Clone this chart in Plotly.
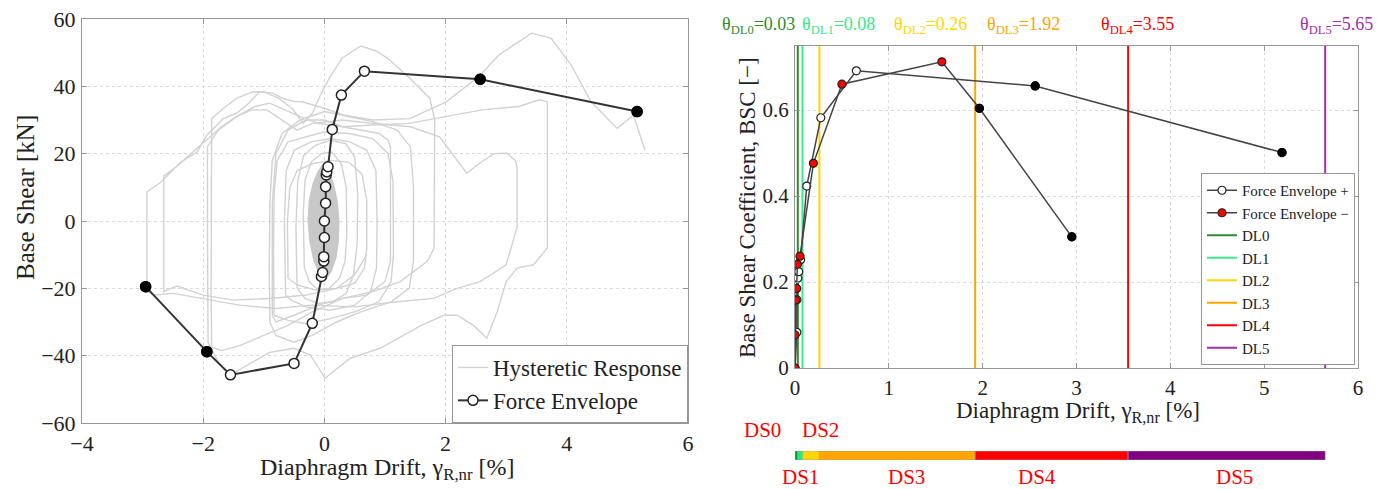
import plotly.graph_objects as go

W, H = 1383, 489

# ---------------- LEFT PANEL DATA ----------------
# Force envelope (drift %, base shear kN), ordered from negative end to positive end
env_drift = [-2.95, -1.94, -1.55, -0.50, -0.20, -0.05, -0.03, -0.01, -0.01, 0.00, 0.00,
             0.02, 0.02, 0.03, 0.04, 0.06, 0.13, 0.28, 0.66, 2.57, 5.16]
env_shear = [-19.5, -38.8, -45.7, -42.3, -30.4, -16.5, -15.3, -11.9, -10.6, -4.9, 0.0,
             5.3, 10.2, 13.7, 14.6, 16.1, 27.2, 37.4, 44.5, 42.1, 32.5]
env_post_peak = [0, 1, 19, 20]   # points plotted as filled black markers

# Hysteretic response: dense core region and individual loops (drift %, shear kN)
blob_x = [0.00, 0.08, 0.16, 0.22, 0.25, 0.24, 0.20, 0.12, 0.03, -0.08, -0.18, -0.25, -0.28, -0.26, -0.20, -0.12, -0.05, 0.00]
blob_y = [17, 15, 11, 6, 0, -6, -11, -15, -17.5, -16, -12, -6, 0, 6, 11, 14.5, 16.5, 17]

loop_s1_x = [-0.33, -0.35, -0.32, -0.22, -0.05, 0.12, 0.28, 0.36, 0.37, 0.34, 0.25, 0.08, -0.10, -0.25, -0.33]
loop_s1_y = [-14, 2, 12, 17.5, 20, 20.5, 17, 10, -4, -12, -17, -20, -20.5, -18, -14]

loop_s2_x = [-0.45, -0.47, -0.44, -0.34, -0.15, 0.10, 0.35, 0.50, 0.55, 0.54, 0.48, 0.36, 0.14, -0.10, -0.32, -0.45]
loop_s2_y = [-20, -2, 12, 19.5, 22.5, 24, 23, 19, 8, -7, -16, -21.5, -24, -24.5, -23, -20]

loop_m0_x = [-0.60, -0.61, -0.57, -0.45, -0.20, 0.10, 0.40, 0.62, 0.70, 0.70, 0.66, 0.50, 0.20, -0.15, -0.45, -0.60]
loop_m0_y = [-17, 0, 10, 15, 17, 18, 17.5, 14, 6, -8, -14, -18.5, -20, -20.5, -19, -17]

loop_m1_x = [-0.64, -0.66, -0.63, -0.50, -0.22, 0.10, 0.42, 0.70, 0.85, 0.87, 0.86, 0.76, 0.50, 0.10, -0.30, -0.55, -0.64]
loop_m1_y = [-22, 0, 15, 21, 23.5, 24.5, 23.5, 21, 15, 0, -14, -21, -25, -26.5, -25.5, -23.5, -22]

loop_m2_x = [-0.83, -0.84, -0.83, -0.78, -0.60, -0.30, 0.00, 0.40, 0.80, 1.05, 1.13, 1.14, 1.10, 0.90, 0.50, 0.10, -0.30, -0.60, -0.83]
loop_m2_y = [-28, -10, 8, 18, 23.5, 25, 26.5, 26, 24.5, 20, 12, -10, -18, -24, -27, -29, -30.5, -29.5, -28]

loop_m3_x = [-0.90, -0.91, -0.90, -0.86, -0.70, -0.40, 0.00, 0.40, 0.80, 1.20, 1.42, 1.47, 1.47, 1.40, 1.10, 0.60, 0.20, -0.20, -0.50, -0.80, -0.90]
loop_m3_y = [-30, -15, 5, 18, 26, 30, 32.5, 31, 29.5, 27, 22, 10, -12, -20, -24, -27, -30, -34, -36, -34, -30]

loop_m4_x = [1.09, 1.09, 1.00, 0.70, 0.30, -0.10, -0.50, -0.80, -0.86, -0.86, -0.80, -0.60, -0.30, 0.00, 0.30, 0.60, 0.90, 1.05, 1.09]
loop_m4_y = [22, -12, -18, -22, -23, -25, -28, -30, -28, 5, 20, 27, 30, 30, 28, 27, 26, 24, 22]

loop_b_x = [1.82, 1.82, 1.81, 1.70, 1.25, 0.80, 0.30, -0.20, -0.60, -1.00, -1.40, -1.70, -1.86, -1.87, -1.87, -1.86,
            -1.67, -1.45, -1.18, -1.00, -0.75, -0.53, -0.35, -0.20, -0.05, 0.10, 0.30, 0.60, 0.85, 1.04, 1.41, 1.74, 1.82]
loop_b_y = [30, 10, -8, -12, -18, -21, -23, -27, -31, -34, -37, -38.5, -37.5, -20, 0, 30.4,
            33.4, 36.4, 38.4, 38.4, 36.4, 33.4, 29, 32, 38, 43, 48.5, 52, 50.5, 48.4, 42.4, 36.4, 30]

loop_c_x = [3.68, 3.68, 3.68, 3.45, 3.18, 3.00, 2.85, 2.68, 2.46, 2.19, 1.97, 1.60, 1.30, 0.92, 0.42, 0.01, -0.23,
            -0.50, -0.90, -1.30, -1.55, -1.75, -1.92, -1.93, -1.93, -1.75, -1.45, -1.15, -0.90, -0.65, -0.40, -0.10,
            0.30, 0.80, 1.40, 2.00, 2.60, 3.20, 3.55, 3.68]
loop_c_y = [35.4, 15, -8, -13, -14, -18, -27, -34.8, -31, -28, -28, -31, -34, -37.8, -40.8, -46.7, -39.8,
            -37.8, -39, -43, -45.7, -42, -36, 0, 22, 27, 31, 34, 35, 33, 31, 29,
            28, 28.5, 29, 31, 33, 34, 36, 35.4]

loop_a_x = [0.70, 0.50, 0.20, -0.30, -0.90, -1.50, -2.00, -2.43, -2.60, -2.65, -2.65, -2.65, -2.45, -2.20, -1.95,
            -1.70, -1.45, -1.20, -0.95, -0.70, -0.45, -0.20, 0.30, 0.80, 1.42, 1.90, 2.20, 2.35, 2.55, 2.80, 3.01,
            3.15, 3.18, 3.18, 3.00, 2.57, 2.19, 1.80, 1.20, 0.50, -0.20, -0.80, -1.40, -2.00, -2.50, -2.80, -2.93,
            -2.93, -2.93, -2.70, -2.37, -2.10, -1.94, -1.67, -1.45, -1.25, -1.07, -0.85, -0.69, -0.50, -0.37, 0.00,
            0.33, 0.80, 1.41, 2.01, 2.55, 2.88, 3.42, 3.74, 4.07, 4.40, 4.83, 5.10, 5.29]
loop_a_y = [-10, -16, -20, -22, -23, -23.5, -22, -19.3, -20.5, -21, 0, 13.4, 16, 20, 24,
            28, 31, 33, 33, 30, 27, 29, 30, 29, 28, 25, 18, 14.2, 17, 20, 20.1,
            18, 16, -1.8, -13, -18, -20, -23, -24, -25.5, -25, -26, -25, -23, -21.5, -22, -21,
            -5, 8.6, 11.5, 17.5, 20.5, 25.5, 30.4, 32, 35, 38.4, 38, 36.4, 35.5, 35.4, 33.5,
            31.4, 30, 30.4, 35.4, 42.9, 49.3, 55.8, 54.3, 46.4, 35.4, 27.5, 31.4, 21]

# ---------------- RIGHT PANEL DATA ----------------
pos_drift = [0.00, 0.02, 0.02, 0.03, 0.04, 0.06, 0.125, 0.275, 0.654, 2.56, 5.19]
pos_bsc = [0.000, 0.083, 0.159, 0.209, 0.224, 0.252, 0.423, 0.582, 0.691, 0.656, 0.501]
pos_post_peak = [9, 10]

neg_drift = [0.000, 0.000, 0.007, 0.018, 0.025, 0.053, 0.196, 0.50, 1.565, 1.965, 2.95]
neg_bsc = [0.000, 0.077, 0.158, 0.185, 0.241, 0.260, 0.476, 0.660, 0.712, 0.604, 0.305]
neg_post_peak = [9, 10]

dl_names = ["DL0", "DL1", "DL2", "DL3", "DL4", "DL5"]
dl_drift = [0.03, 0.08, 0.26, 1.92, 3.55, 5.65]
dl_colors = ["#2E8B2E", "#3CE88C", "#FFD700", "#FFA500", "#FF0000", "#A030B0"]

ds_names = ["DS0", "DS1", "DS2", "DS3", "DS4", "DS5"]
ds_start = [0.0, 0.03, 0.08, 0.26, 1.92, 3.55]
ds_end = [0.03, 0.08, 0.26, 1.92, 3.55, 5.65]
ds_colors = ["#1E8C1E", "#00FF7F", "#FFD700", "#FFA500", "#FF0000", "#800080"]

bsc_top = 0.75

# ---------------- helpers ----------------
def px_x(p):
    return p / W

def px_y(p):
    return (H - p) / H

FONT = "Liberation Serif"
TXT = "#222222"
AXC = "rgb(150,150,150)"
HYS = "rgb(210,210,210)"

fig = go.Figure()

# ----- left panel -----
fig.add_trace(go.Scatter(x=blob_x, y=blob_y, mode="lines", fill="toself",
                         fillcolor="rgb(200,200,200)", line=dict(width=0, color="rgb(200,200,200)"),
                         showlegend=False, hoverinfo="skip", xaxis="x", yaxis="y"))

loops = [(loop_s1_x, loop_s1_y), (loop_s2_x, loop_s2_y), (loop_m0_x, loop_m0_y),
         (loop_m1_x, loop_m1_y), (loop_m2_x, loop_m2_y), (loop_m3_x, loop_m3_y),
         (loop_m4_x, loop_m4_y), (loop_b_x, loop_b_y), (loop_c_x, loop_c_y), (loop_a_x, loop_a_y)]
hx, hy = [], []
for xs, ys in loops:
    hx += list(xs) + [None]
    hy += list(ys) + [None]

fig.add_trace(go.Scatter(x=hx, y=hy, mode="lines", name="Hysteretic Response",
                         line=dict(color=HYS, width=1.4), xaxis="x", yaxis="y", legend="legend"))
fig.add_trace(go.Scatter(x=env_drift, y=env_shear, mode="lines+markers", name="Force Envelope",
                         line=dict(color="#333333", width=2),
                         marker=dict(symbol="circle", size=10, color="white", line=dict(color="#222222", width=1.5)),
                         xaxis="x", yaxis="y", legend="legend"))
fig.add_trace(go.Scatter(x=[env_drift[i] for i in env_post_peak], y=[env_shear[i] for i in env_post_peak],
                         mode="markers", showlegend=False,
                         marker=dict(symbol="circle", size=10, color="black", line=dict(color="black", width=1.5)),
                         xaxis="x", yaxis="y"))

# ----- right panel -----
for i, (nm, v, c) in enumerate(zip(dl_names, dl_drift, dl_colors)):
    fig.add_trace(go.Scatter(x=[v, v], y=[0, bsc_top], mode="lines", name=nm,
                             line=dict(color=c, width=2), xaxis="x2", yaxis="y2",
                             legend="legend2", legendrank=10 + i))

fig.add_trace(go.Scatter(x=pos_drift, y=pos_bsc, mode="lines+markers", name="Force Envelope +",
                         line=dict(color="#444444", width=1.5),
                         marker=dict(symbol="circle", size=8, color="white", line=dict(color="#222222", width=1.2)),
                         xaxis="x2", yaxis="y2", legend="legend2", legendrank=1))
fig.add_trace(go.Scatter(x=neg_drift, y=neg_bsc, mode="lines+markers", name="Force Envelope \u2212",
                         line=dict(color="#444444", width=1.5),
                         marker=dict(symbol="circle", size=8, color="red", line=dict(color="#222222", width=1.2)),
                         xaxis="x2", yaxis="y2", legend="legend2", legendrank=2))
fig.add_trace(go.Scatter(x=[pos_drift[i] for i in pos_post_peak] + [neg_drift[i] for i in neg_post_peak],
                         y=[pos_bsc[i] for i in pos_post_peak] + [neg_bsc[i] for i in neg_post_peak],
                         mode="markers", showlegend=False,
                         marker=dict(symbol="circle", size=8, color="black", line=dict(color="black", width=1.2)),
                         xaxis="x2", yaxis="y2"))

# ----- damage-state bar -----
for nm, s, e, c in zip(ds_names, ds_start, ds_end, ds_colors):
    fig.add_trace(go.Bar(y=[0], x=[e - s], base=[s], orientation="h", width=1.0,
                         marker=dict(color=c, line=dict(color="rgb(160,160,160)", width=0.6)),
                         showlegend=False, name=nm, xaxis="x3", yaxis="y3", hoverinfo="skip"))

def axis_common(size, standoff):
    return dict(showline=True, mirror="ticks", linecolor=AXC, linewidth=1,
                ticks="inside", ticklen=5, tickcolor=AXC, showgrid=True,
                gridcolor="rgb(218,218,218)", griddash="dot", gridwidth=1, zeroline=False,
                automargin=False, ticklabelstandoff=standoff,
                tickfont=dict(family=FONT, size=size, color=TXT))

fig.update_layout(
    width=W, height=H, margin=dict(l=0, r=0, t=0, b=0, autoexpand=False),
    paper_bgcolor="white", plot_bgcolor="white", barmode="overlay",
    font=dict(family=FONT, color=TXT),
    xaxis=dict(domain=[px_x(82), px_x(688)], range=[-4, 6], tickvals=[-4, -2, 0, 2, 4, 6],
               anchor="y", **axis_common(22, 1)),
    yaxis=dict(domain=[px_y(423), px_y(19)], range=[-60, 60], tickvals=[-60, -40, -20, 0, 20, 40, 60],
               anchor="x", **axis_common(22, 1)),
    xaxis2=dict(domain=[px_x(795), px_x(1358)], range=[0, 6], tickvals=[0, 1, 2, 3, 4, 5, 6],
                anchor="y2", **axis_common(21, 1)),
    yaxis2=dict(domain=[px_y(368), px_y(45.5)], range=[0, bsc_top], tickvals=[0, 0.2, 0.4, 0.6],
                ticktext=["0", "0.2", "0.4", "0.6"], anchor="x2", **axis_common(21, 1)),
    xaxis3=dict(domain=[px_x(795), px_x(1358)], range=[0, 6], visible=False, anchor="y3", automargin=False),
    yaxis3=dict(domain=[px_y(460), px_y(451)], range=[-0.5, 0.5], visible=False, anchor="x3", automargin=False),
    legend=dict(x=px_x(688), xanchor="right", y=px_y(423), yanchor="bottom",
                bgcolor="white", bordercolor="rgb(150,150,150)", borderwidth=1,
                font=dict(family=FONT, size=23, color=TXT), tracegroupgap=0),
    legend2=dict(x=px_x(1355), xanchor="right", y=px_y(365), yanchor="bottom",
                 bgcolor="white", bordercolor="rgb(150,150,150)", borderwidth=1,
                 font=dict(family=FONT, size=15, color=TXT), tracegroupgap=0),
)

ann = []
# axis titles
ann.append(dict(text="Diaphragm Drift, \u03b3<sub>R,nr</sub> [%]", x=px_x(387), y=px_y(469),
                font=dict(size=24)))
ann.append(dict(text="Base Shear [kN]", x=px_x(25), y=px_y(198), textangle=-90, font=dict(size=25)))
ann.append(dict(text="Diaphragm Drift, \u03b3<sub>R,nr</sub> [%]", x=px_x(1078), y=px_y(412),
                font=dict(size=23)))
ann.append(dict(text="Base Shear Coefficient, BSC [\u2212]", x=px_x(747), y=px_y(207), textangle=-90,
                font=dict(size=23)))
# threshold labels above right panel
label_x_px = [758, 838, 931, 1023, 1137, 1336]
for nm, v, c, lx in zip(dl_names, dl_drift, dl_colors, label_x_px):
    ann.append(dict(text=f"\u03b8<sub>{nm}</sub>={v:.2f}", x=px_x(lx), y=px_y(25),
                    font=dict(size=18, color=c)))
# damage-state labels
ds_label_px = [(762, 430), (800, 477), (820, 430), (906, 477), (1037, 477), (1234, 477)]
for nm, (lx, ly) in zip(ds_names, ds_label_px):
    ann.append(dict(text=nm, x=px_x(lx), y=px_y(ly), font=dict(size=21, color="#FF0000")))

for a in ann:
    a.update(xref="paper", yref="paper", showarrow=False, xanchor="center", yanchor="middle")
    a["font"].setdefault("family", FONT)
    a["font"].setdefault("color", TXT)
fig.update_layout(annotations=ann)

fig.write_html("out.html", config={"displayModeBar": False},
               post_script="document.body.style.margin='0px';")
